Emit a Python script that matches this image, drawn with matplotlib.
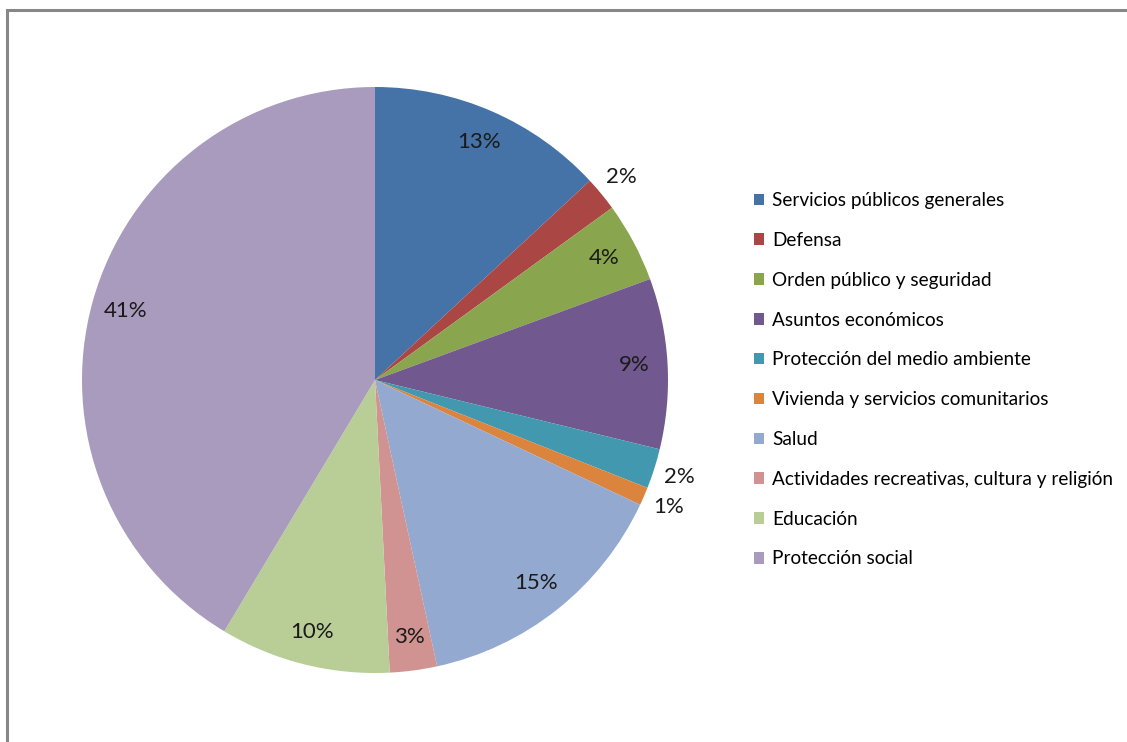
import numpy as np
import matplotlib
matplotlib.use("Agg")
import matplotlib.pyplot as plt
from matplotlib.patches import Rectangle

# shares of spending by function (percent)
categories = [
    "Servicios públicos generales",
    "Defensa",
    "Orden público y seguridad",
    "Asuntos económicos",
    "Protección del medio ambiente",
    "Vivienda y servicios comunitarios",
    "Salud",
    "Actividades recreativas, cultura y religión",
    "Educación",
    "Protección social",
]
values = [13.1, 1.9, 4.4, 9.4, 2.2, 1.0, 14.6, 2.6, 9.4, 41.4]
labels = ["13%", "2%", "4%", "9%", "2%", "1%", "15%", "3%", "10%", "41%"]

colors = ["#4572A7", "#AA4643", "#89A54E", "#71588F", "#4198AF",
          "#DB843D", "#93A9CF", "#D19392", "#B9CD96", "#A99BBD"]

plt.rcParams["font.family"] = ["Lato", "DejaVu Sans"]

W, H = 1127, 742
fig = plt.figure(figsize=(W / 100, H / 100), dpi=100)

# pie centre and radius in pixels
cx, cy, r = 375, 380, 293
ax = fig.add_axes([(cx - r) / W, (H - cy - r) / H, 2 * r / W, 2 * r / H])
wedges, _ = ax.pie(values, colors=colors, startangle=90, counterclock=False,
                   radius=1, wedgeprops=dict(linewidth=0))
ax.set_xlim(-1, 1)
ax.set_ylim(-1, 1)
ax.set_aspect("equal")
ax.axis("off")

for w, lab, v in zip(wedges, labels, values):
    mid = np.deg2rad((w.theta1 + w.theta2) / 2)
    rr = 1.09 if v < 2.5 else 0.885
    ax.text(rr * np.cos(mid), rr * np.sin(mid), lab, ha="center", va="center",
            fontsize=16, color="#1a1a1a", clip_on=False)

fig.legend(wedges, categories, loc="upper left",
           bbox_to_anchor=(754 / W, 1 - 192 / H), frameon=False,
           fontsize=13.7, handlelength=0.55, handleheight=0.55,
           handletextpad=0.4, labelspacing=1.2, borderpad=0, borderaxespad=0)

# outer chart border (only top and left edges are visible)
fig.add_artist(Rectangle((7 / W, -0.5), 2, 0.5 + 1 - 10 / H,
                         transform=fig.transFigure, fill=False,
                         edgecolor="#878787", linewidth=2.2))

fig.savefig("out.png", dpi=100)
